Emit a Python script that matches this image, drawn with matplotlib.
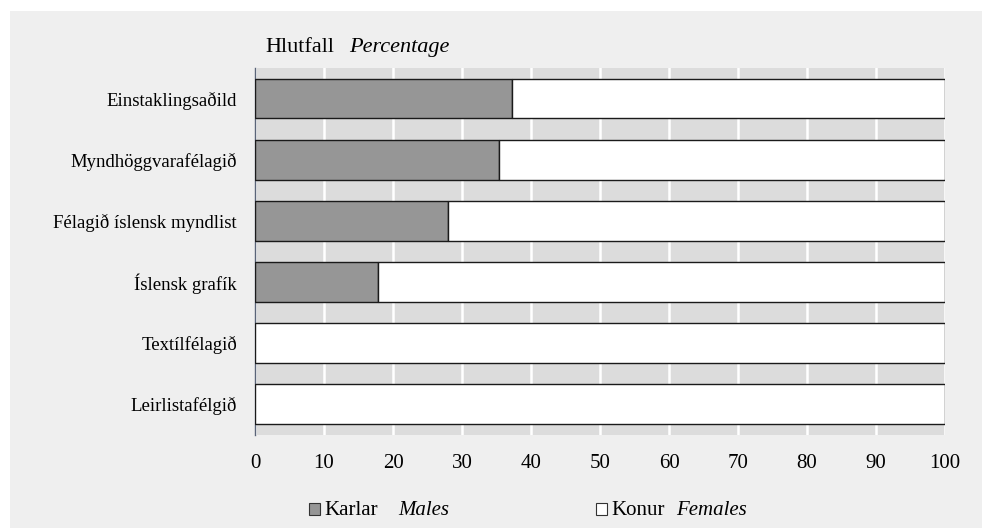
import matplotlib
matplotlib.use("Agg")
import matplotlib.pyplot as plt
from matplotlib.patches import Rectangle
import numpy as np

categories = ["Einstaklingsaðild", "Myndhöggvarafélagið", "Félagið íslensk myndlist",
              "Íslensk grafík", "Textílfélagið", "Leirlistafélgið"]
males = [37.2, 35.4, 27.9, 17.8, 0, 0]
females = [100 - m for m in males]
xticks = [0, 10, 20, 30, 40, 50, 60, 70, 80, 90, 100]

plt.rcParams['font.family'] = ['Liberation Serif', 'DejaVu Serif']

W, H = 982, 528
fig = plt.figure(figsize=(W / 100, H / 100), dpi=100)
fig.patch.set_facecolor('white')
# grey panel with white margin at left/top
fig.patches.append(Rectangle((10 / W, 0), 1 - 10 / W, 1 - 11 / H, transform=fig.transFigure,
                             facecolor='#efefef', edgecolor='none', zorder=-10))

ax = fig.add_axes([255 / W, 1 - 434.7 / H, 690 / W, 366.7 / H])
ax.set_facecolor('#dcdcdc')
y = np.arange(len(categories))
bh = 0.65
ax.barh(y, males, height=bh, color='#969696', edgecolor='#1a1a1a', linewidth=1.0, zorder=3)
ax.barh(y, females, left=males, height=bh, color='white', edgecolor='#1a1a1a', linewidth=1.0, zorder=3)

ax.set_xlim(0, 100)
ax.set_ylim(len(categories) - 0.5, -0.5)
ax.set_xticks(xticks)
ax.set_xticklabels([str(t) for t in xticks], fontsize=15)
ax.set_yticks(y)
ax.set_yticklabels(categories, fontsize=13.5)
ax.tick_params(axis='both', length=0)
ax.tick_params(axis='x', pad=14)
ax.tick_params(axis='y', pad=13)
ax.grid(axis='x', color='white', linewidth=1.8, zorder=1)
ax.set_axisbelow(True)
for s in ['top', 'right', 'bottom']:
    ax.spines[s].set_visible(False)
ax.spines['left'].set_color('#5a6478')
ax.spines['left'].set_linewidth(1.0)

# title
fig.text(265 / W, 1 - 52.3 / H, "Hlutfall", fontsize=16, va='baseline', ha='left')
fig.text(349 / W, 1 - 52.3 / H, "Percentage", fontsize=16, style='italic', va='baseline', ha='left')

# legend
lb = 1 - 515 / H
fig.patches.append(Rectangle((309 / W, 1 - 515 / H), 11 / W, 12 / H, transform=fig.transFigure,
                             facecolor='#969696', edgecolor='#333333', linewidth=0.8))
fig.text(324 / W, lb, "Karlar", fontsize=15, va='baseline', ha='left')
fig.text(398 / W, lb, "Males", fontsize=15, style='italic', va='baseline', ha='left')
fig.patches.append(Rectangle((596 / W, 1 - 515 / H), 11 / W, 12 / H, transform=fig.transFigure,
                             facecolor='white', edgecolor='#333333', linewidth=0.8))
fig.text(611 / W, lb, "Konur", fontsize=15, va='baseline', ha='left')
fig.text(676 / W, lb, "Females", fontsize=15, style='italic', va='baseline', ha='left')

fig.savefig("out.png", dpi=100, facecolor=fig.get_facecolor())
